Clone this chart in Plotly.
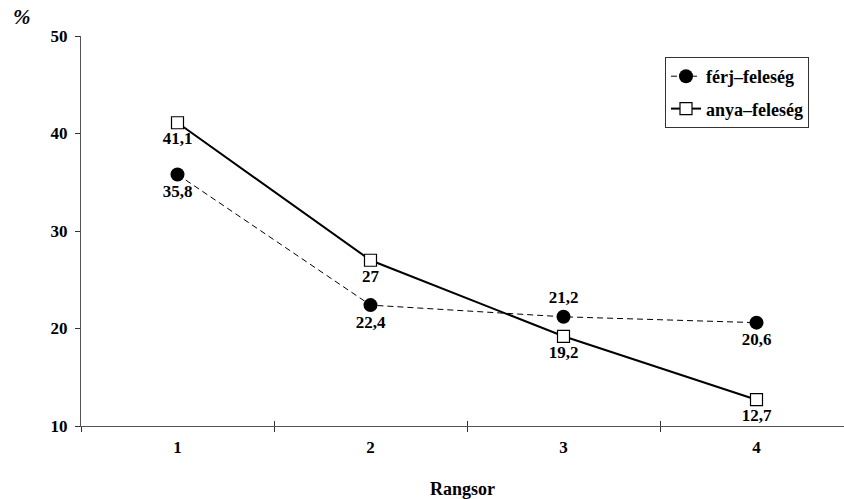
import plotly.graph_objects as go

categories = [1, 2, 3, 4]
ferj_feleseg = [35.8, 22.4, 21.2, 20.6]
anya_feleseg = [41.1, 27, 19.2, 12.7]
ferj_pos = ["bottom center", "bottom center", "top center", "bottom center"]
anya_pos = ["bottom center", "bottom center", "bottom center", "bottom center"]
y_ticks = [10, 20, 30, 40, 50]

FONT = "Liberation Serif"

def lab(vals):
    return [f"{v:g}".replace(".", ",") for v in vals]

fig = go.Figure()
fig.add_trace(go.Scatter(
    x=categories, y=ferj_feleseg, name="férj–feleség", legendgroup="a",
    mode="lines+markers+text", text=lab(ferj_feleseg), textposition=ferj_pos,
    line=dict(color="black", width=1, dash="6px,4px"),
    marker=dict(symbol="circle", size=14, color="black"),
    textfont=dict(family=FONT, size=17, color="black", weight="bold"),
))
fig.add_trace(go.Scatter(
    x=categories, y=anya_feleseg, name="anya–feleség", legendgroup="b",
    mode="lines+markers+text", text=lab(anya_feleseg), textposition=anya_pos,
    line=dict(color="black", width=2),
    marker=dict(symbol="square", size=12, color="white", line=dict(color="black", width=1.2)),
    textfont=dict(family=FONT, size=17, color="black", weight="bold"),
))
# invisible trace to host the overlay axis for crossing ticks
fig.add_trace(go.Scatter(x=[categories[0]], y=[y_ticks[0]], xaxis="x2", mode="markers",
                         marker=dict(opacity=0), showlegend=False, hoverinfo="skip"))

bounds = [c - 0.5 for c in categories] + [categories[-1] + 0.5]

fig.update_layout(
    width=844, height=499,
    margin=dict(l=81, r=0, t=36, b=73, autoexpand=False),
    paper_bgcolor="white", plot_bgcolor="white",
    font=dict(family=FONT, size=17, color="black"),
    showlegend=True,
    legend=dict(
        x=(665 - 81) / 763, y=(426 - 57) / 390, xanchor="left", yanchor="top",
        bgcolor="white", bordercolor="#333", borderwidth=1,
        font=dict(family=FONT, size=18, color="black", weight="bold"),
        tracegroupgap=6,
    ),
    xaxis=dict(
        range=[0.5, 0.5 + 763 / 193], showgrid=False, zeroline=False,
        showline=True, linecolor="#555", linewidth=1, automargin=False,
        tickvals=categories, ticktext=[str(c) for c in categories],
        ticks="", ticklen=0, ticklabelstandoff=6,
        tickfont=dict(family=FONT, size=17, weight="bold"),
        minor=dict(tickvals=bounds, ticks="outside", ticklen=5, tickcolor="#333", tickwidth=1),
        title=dict(text="<b>Rangsor</b>", font=dict(family=FONT, size=18), standoff=26),
    ),
    xaxis2=dict(
        overlaying="x", matches="x", anchor="y", side="bottom",
        showgrid=False, zeroline=False, showline=False,
        tickvals=bounds, ticks="inside", ticklen=5, tickcolor="#333",
        showticklabels=False,
    ),
    yaxis=dict(
        range=[10, 50], showgrid=False, zeroline=False, automargin=False,
        showline=True, linecolor="#555", linewidth=1,
        tickvals=y_ticks, ticks="outside", ticklen=5, tickcolor="#333",
        ticklabelstandoff=4,
        tickfont=dict(family=FONT, size=17, weight="bold"),
    ),
    annotations=[dict(text="<b><i>%</i></b>", showarrow=False,
                      xref="paper", yref="paper",
                      x=(22 - 81) / 763, y=(499 - 73 - 17) / 390,
                      xanchor="center", yanchor="middle",
                      font=dict(family=FONT, size=21))],
)

fig.write_html("out.html")
